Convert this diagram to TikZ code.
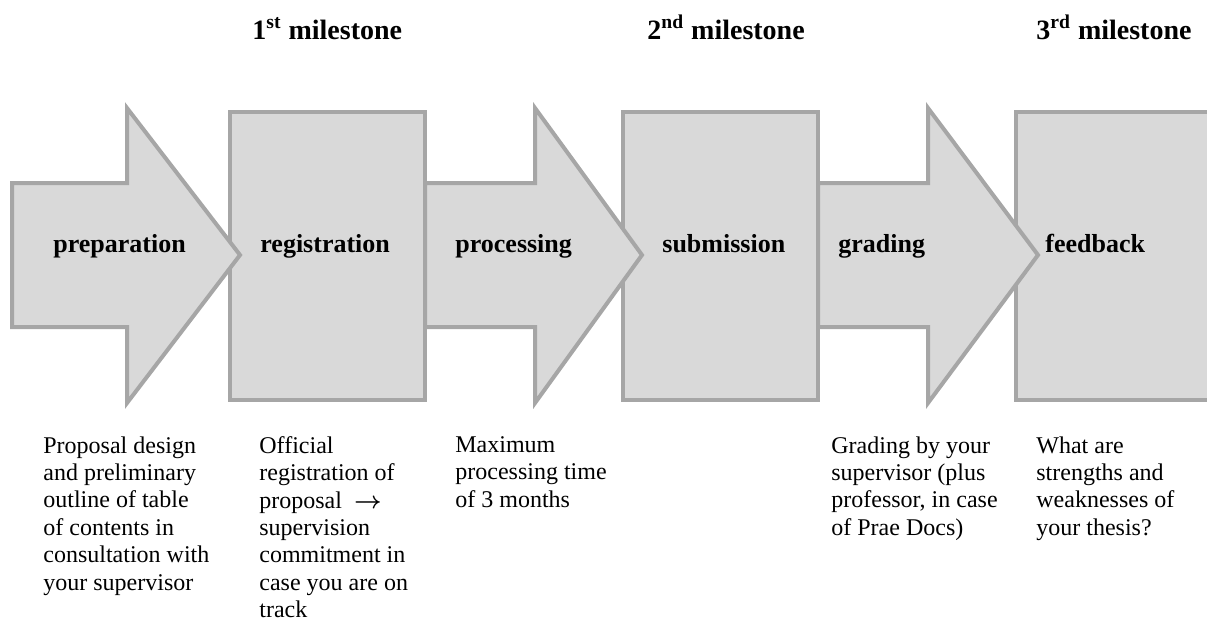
\documentclass[tikz,border=0pt]{standalone}
\usepackage{fontspec}
\setmainfont{Liberation Serif}
\usepackage{amsmath}
\usepackage{tikz}
\definecolor{stageFill}{HTML}{D9D9D9}
\definecolor{stageLine}{HTML}{A6A6A6}

\begin{document}
\begin{tikzpicture}[x=0.5pt, y=-0.5pt,
  stage/.style={fill=stageFill, draw=stageLine, line width=2pt, line join=miter},
  ttl/.style={font=\fontsize{13}{15}\selectfont\bfseries, inner sep=0pt, anchor=base west},
  mile/.style={font=\fontsize{14}{16}\selectfont\bfseries, inner sep=0pt, anchor=base west},
  note/.style={font=\fontsize{12}{13.7}\selectfont, align=left, inner sep=0pt, anchor=north west}
]
\useasboundingbox (0,0) rectangle (1207,618);
\clip (0,0) rectangle (1207,618);
% milestone boxes
\draw[stage] (230,112) rectangle (425,400);
\draw[stage] (623,112) rectangle (818,400);
\draw[stage] (1016,112) rectangle (1211,400);
% step arrows
\foreach \xa/\xb/\xc in {12/127/240, 425/535/642, 818/928/1038}
  \draw[stage] (\xa,183) -- (\xb,183) -- (\xb,108) -- (\xc,255)
     -- (\xb,403) -- (\xb,327) -- (\xa,327) -- cycle;
\node[ttl] (prep) at (53,252) {preparation};
\node[ttl] (reg) at (260,252) {registration};
\node[ttl] (proc) at (455,252) {processing};
\node[ttl] (subm) at (662,252) {submission};
\node[ttl] (grad) at (838,252) {grading};
\node[ttl] (feed) at (1045,252) {feedback};
\node[mile] (m1) at (252,39) {1\textsuperscript{st} milestone};
\node[mile] (m2) at (647,39) {2\textsuperscript{nd} milestone};
\node[mile] (m3) at (1036,39) {3\textsuperscript{rd} milestone};
\node[note] (prepnote) at (43,436) {Proposal design\\and preliminary\\outline of table\\of contents in\\consultation with\\your supervisor};
\node[note] (regnote) at (259,436) {Official\\registration of\\proposal \ $\boldsymbol{\rightarrow}$\\supervision\\commitment in\\case you are on\\track};
\node[note] (procnote) at (455,436) {Maximum\\processing time\\of 3 months};
\node[note] (gradnote) at (831,436) {Grading by your\\supervisor (plus\\professor, in case\\of Prae Docs)};
\node[note] (feednote) at (1036,436) {What are\\strengths and\\weaknesses of\\your thesis?};
\end{tikzpicture}
\end{document}
